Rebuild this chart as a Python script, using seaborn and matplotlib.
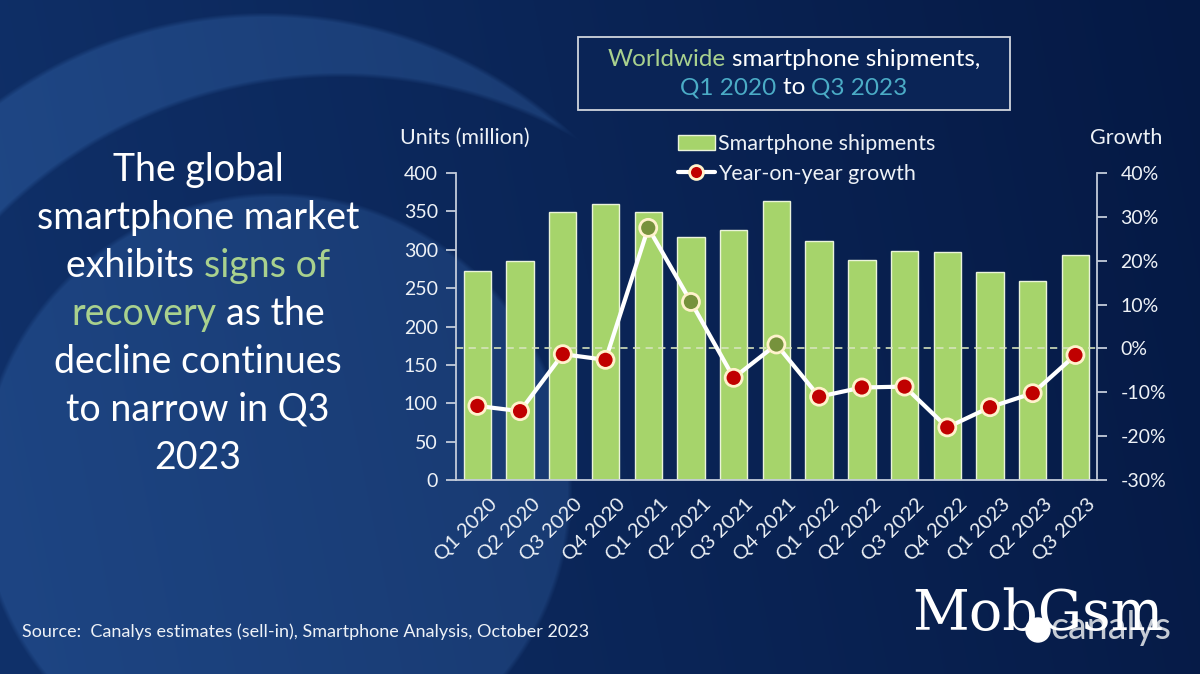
import numpy as np
import pandas as pd
import seaborn as sns
import matplotlib.pyplot as plt
import matplotlib.transforms as mtransforms
from matplotlib.patches import Circle, Rectangle, Patch
from matplotlib.lines import Line2D
from matplotlib.ticker import FuncFormatter

quarters = ["Q1 2020", "Q2 2020", "Q3 2020", "Q4 2020", "Q1 2021", "Q2 2021", "Q3 2021", "Q4 2021",
            "Q1 2022", "Q2 2022", "Q3 2022", "Q4 2022", "Q1 2023", "Q2 2023", "Q3 2023"]
shipments = [272, 285, 349, 360, 349, 316, 326, 363, 311, 287, 298, 297, 271, 259, 293]
growth = [-13.1, -14.3, -1.3, -2.6, 27.5, 10.6, -6.7, 0.9, -11.0, -8.9, -8.7, -18.0, -13.4, -10.2, -1.5]
left_ticks = [0, 50, 100, 150, 200, 250, 300, 350, 400]
right_ticks = [-30, -20, -10, 0, 10, 20, 30, 40]

df = pd.DataFrame({"quarter": quarters, "shipments": shipments, "growth": growth})
df["sign"] = np.where(df["growth"] >= 0, "up", "down")

sns.set_style("white")
plt.rcParams["font.family"] = ["Lato", "DejaVu Sans"]

BAR = "#A6D46B"
TXT = "#EEF2F7"
SPINE = "#C3CCDA"
LGREEN = "#A9D18E"
TEAL = "#4BACC6"

fig = plt.figure(figsize=(12, 6.74), dpi=100)

# background in pixel coordinates (y down)
bg = fig.add_axes([0, 0, 1, 1], zorder=-10)
bg.set_xlim(0, 1200)
bg.set_ylim(674, 0)
bg.axis("off")
X, Y = np.meshgrid(np.arange(1200) + 0.5, np.arange(674) + 0.5)
c_left = np.array([0x10, 0x31, 0x6A]) / 255
c_right = np.array([0x05, 0x19, 0x44]) / 255
t = np.clip(X / 1200 * 0.9 + (1 - Y / 674) * 0.1, 0, 1)[..., None]
img = c_left * (1 - t) + c_right * t


def disc(cx, cy, r, soft=5):
    d = np.hypot(X - cx, Y - cy)
    return np.clip((r - d) / soft + 0.5, 0, 1)


crescent = disc(265, 465, 450) * (1 - disc(340, 560, 485))
lower = disc(275, 490, 295)
lift = np.array([0x12, 0x1B, 0x22]) / 255
img = img + (0.85 * crescent + 0.75 * lower)[..., None] * lift
bg.imshow(np.clip(img, 0, 1), extent=(0, 1200, 674, 0), aspect="auto", zorder=0)
bg.add_patch(Rectangle((578, 37), 432, 73, facecolor="#0A2456", edgecolor="#D0D5DD", lw=1.3, zorder=2))

renderer = fig.canvas.get_renderer()


def text_width(s, size, **kw):
    a = bg.text(0, 0, s + "|", fontsize=size, **kw)
    b = bg.text(0, 0, "|", fontsize=size, **kw)
    w = a.get_window_extent(renderer).width - b.get_window_extent(renderer).width
    a.remove()
    b.remove()
    return w


def rich(cx, cy, parts, size):
    full = "".join(p for p, _ in parts)
    x0 = cx - text_width(full, size) / 2
    prefix = ""
    for s, c in parts:
        lead = len(s) - len(s.lstrip())
        prefix += s[:lead]
        bg.text(x0 + text_width(prefix, size), cy, s.lstrip(), color=c, fontsize=size,
                ha="left", va="center", zorder=5)
        prefix += s[lead:]


rich(794, 60, [("Worldwide", LGREEN), (" smartphone shipments,", "white")], 17.5)
rich(794, 88, [("Q1 2020", TEAL), (" to ", "white"), ("Q3 2023", TEAL)], 17.5)

left_lines = [
    [("The global", "white")],
    [("smartphone market", "white")],
    [("exhibits ", "white"), ("signs of", LGREEN)],
    [("recovery", LGREEN), (" as the", "white")],
    [("decline continues", "white")],
    [("to narrow in Q3", "white")],
    [("2023", "white")],
]
for i, parts in enumerate(left_lines):
    rich(198, 170 + 48 * i, parts, 27)

bg.text(22, 632, "Source:  Canalys estimates (sell-in), Smartphone Analysis, October 2023",
        color=TXT, fontsize=13, ha="left", va="center", zorder=5)
bg.text(400, 138, "Units (million)", color=TXT, fontsize=15.5, ha="left", va="center", zorder=5)
bg.text(1090, 138, "Growth", color=TXT, fontsize=15.5, ha="left", va="center", zorder=5)
bg.add_patch(Circle((1038, 630), 12, color="white", zorder=5))
bg.text(1050, 628, "canalys", color="#C5CBD4", fontsize=27, ha="left", va="center", zorder=5)
bg.text(912, 630, "MobGsm", color="white", fontsize=40, family="DejaVu Serif",
        ha="left", va="baseline", zorder=6)

# main chart
ax = fig.add_axes([0.38, 0.2878, 0.534, 0.4555])
ax.set_facecolor("none")
sns.barplot(data=df, x="quarter", y="shipments", color=BAR, saturation=1, width=0.64,
            edgecolor="#EAF3DA", linewidth=1, ax=ax)
ax.set_ylim(0, 400)
ax.set_yticks(left_ticks)
ax.set_xlabel("")
ax.set_ylabel("")
for s in ["top", "right"]:
    ax.spines[s].set_visible(False)
for s in ["left", "bottom"]:
    ax.spines[s].set_color(SPINE)
    ax.spines[s].set_linewidth(1.3)
ax.tick_params(axis="y", colors=SPINE, labelcolor=TXT, labelsize=14, length=7, width=1.3, pad=6)
ax.tick_params(axis="x", length=0, labelcolor=TXT, labelsize=14.5, pad=11)
shift = mtransforms.ScaledTranslation(0.11, 0, fig.dpi_scale_trans)
for lab in ax.get_xticklabels():
    lab.set_rotation(45)
    lab.set_ha("right")
    lab.set_rotation_mode("anchor")
    lab.set_transform(lab.get_transform() + shift)

ax2 = ax.twinx()
ax2.axhline(0, color="#D7E4BD", lw=1.3, ls=(0, (4, 3)), alpha=0.9, zorder=1)
sns.lineplot(data=df, x="quarter", y="growth", color="white", lw=3, sort=False, ax=ax2, zorder=2)
sns.scatterplot(data=df, x="quarter", y="growth", hue="sign",
                palette={"up": "#76923C", "down": "#C00000"}, s=150,
                edgecolor="#FFF2CC", linewidth=2, legend=False, ax=ax2, zorder=3)
ax2.set_ylim(-30, 40)
ax2.set_yticks(right_ticks)
ax2.yaxis.set_major_formatter(FuncFormatter(lambda v, p: f"{v:.0f}%"))
ax2.set_xlabel("")
ax2.set_ylabel("")
for s in ["top", "left", "bottom"]:
    ax2.spines[s].set_visible(False)
ax2.spines["right"].set_color(SPINE)
ax2.spines["right"].set_linewidth(1.3)
ax2.tick_params(axis="y", colors=SPINE, labelcolor=TXT, labelsize=14, length=7, width=1.3, pad=10)
ax.set_xlim(-0.5, len(quarters) - 0.5)

handles = [
    Patch(facecolor=BAR, edgecolor="#EAF3DA", lw=1),
    Line2D([0], [0], color="white", lw=3, marker="o", markersize=10,
           markerfacecolor="#C00000", markeredgecolor="#FFF2CC", markeredgewidth=2),
]
fig.legend(handles, ["Smartphone shipments", "Year-on-year growth"], loc="upper left",
           bbox_to_anchor=(678 / 1200, 1 - 134 / 674), frameon=False, fontsize=15.5,
           labelcolor=TXT, handlelength=1.7, handletextpad=0.15, labelspacing=0.45,
           borderpad=0, borderaxespad=0)

fig.savefig("out.png", dpi=100)
